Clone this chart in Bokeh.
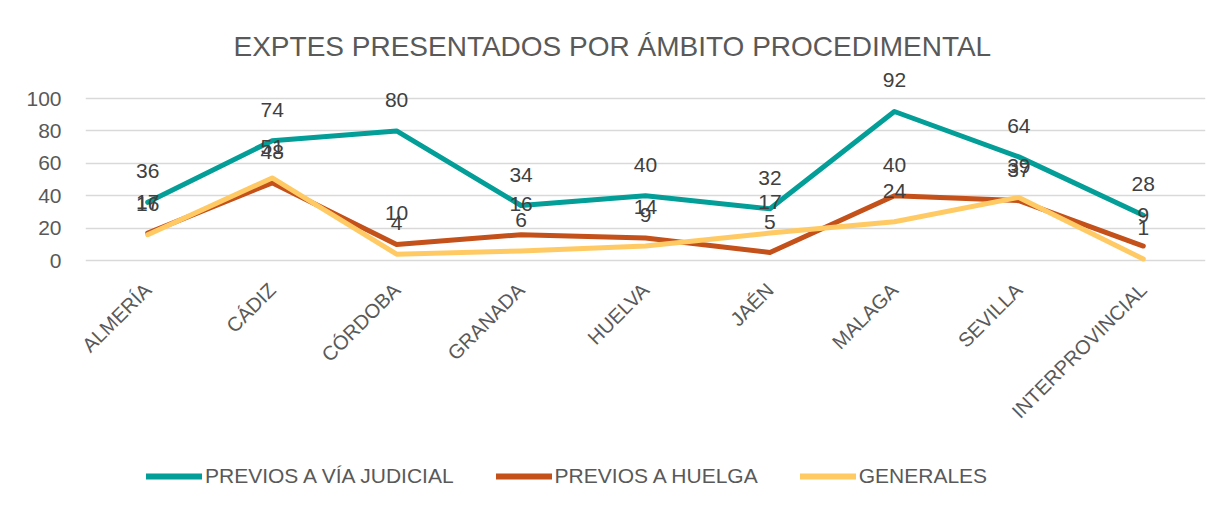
from math import pi
from bokeh.plotting import figure
from bokeh.layouts import column
from bokeh.models import Range1d, FactorRange, FixedTicker, Legend, LegendItem, ColumnDataSource
from bokeh.core.properties import value
from bokeh.embed import file_html
from bokeh.resources import INLINE

categories = ["ALMERÍA", "CÁDIZ", "CÓRDOBA", "GRANADA", "HUELVA", "JAÉN", "MALAGA", "SEVILLA", "INTERPROVINCIAL"]
judicial = [36, 74, 80, 34, 40, 32, 92, 64, 28]
huelga = [17, 48, 10, 16, 14, 5, 40, 37, 9]
generales = [16, 51, 4, 6, 9, 17, 24, 39, 1]
series_names = ["PREVIOS A VÍA JUDICIAL", "PREVIOS A HUELGA", "GENERALES"]
series_colors = ["#029E97", "#C4501A", "#FFCA64"]
y_ticks = [0, 20, 40, 60, 80, 100]
title_text = "EXPTES PRESENTADOS POR ÁMBITO PROCEDIMENTAL"

REG = "Liberation Sans"
LW = 5

p = figure(width=1222, height=445,
           x_range=FactorRange(*categories), y_range=Range1d(-3, 119.75),
           output_backend="svg", toolbar_location=None,
           min_border_left=85, min_border_right=17, min_border_top=66, min_border_bottom=180,
           title=title_text)
p.background_fill_color = "white"
p.border_fill_color = "white"
p.outline_line_color = None

p.title.text_font = REG
p.title.text_font_size = "28px"
p.title.text_font_style = "normal"
p.title.text_color = "#595959"
p.title.align = "left"
p.title.offset = 148
p.title.standoff = 9

p.xgrid.grid_line_color = None
p.ygrid.ticker = FixedTicker(ticks=y_ticks)
p.ygrid.grid_line_color = "#d9d9d9"
p.ygrid.grid_line_width = 1.3

p.yaxis.ticker = FixedTicker(ticks=y_ticks)
p.yaxis.axis_line_color = None
p.yaxis.major_tick_line_color = None
p.yaxis.minor_tick_line_color = None
p.yaxis.major_label_standoff = 18
p.yaxis.major_label_text_font = REG
p.yaxis.major_label_text_font_size = "21px"
p.yaxis.major_label_text_color = "#595959"

p.xaxis.axis_line_color = None
p.xaxis.major_tick_line_color = None
p.xaxis.minor_tick_line_color = None
p.xaxis.major_label_orientation = pi / 4
p.xaxis.major_label_standoff = 15
p.xaxis.major_label_text_font = REG
p.xaxis.major_label_text_font_size = "20px"
p.xaxis.major_label_text_color = "#595959"

for vals, col in zip([judicial, huelga, generales], series_colors):
    src = ColumnDataSource(dict(x=categories, y=vals))
    p.line(x="x", y="y", source=src, line_color=col, line_width=LW,
           line_cap="round", line_join="round")

for vals in [judicial, huelga, generales]:
    src = ColumnDataSource(dict(x=categories, y=vals, t=[str(v) for v in vals]))
    p.text(x="x", y="y", text="t", source=src, text_align="center", text_baseline="middle",
           y_offset=-31, text_font=value(REG), text_font_size="21px", text_color="#404040")

# legend strip below the chart (its frame is aligned with the chart's frame)
p2 = figure(width=1222, height=55, x_range=Range1d(0, 1), y_range=Range1d(0, 1),
            output_backend="svg", toolbar_location=None,
            x_axis_location=None, y_axis_location=None,
            min_border_left=85, min_border_right=17, min_border_top=0, min_border_bottom=0)
p2.grid.visible = False
p2.outline_line_color = None
p2.background_fill_color = "white"
p2.border_fill_color = "white"
items = []
for name, col in zip(series_names, series_colors):
    r = p2.line(x=[-2, -1], y=[-2, -2], line_color=col, line_width=LW + 1, line_cap="round")
    items.append(LegendItem(label=name, renderers=[r]))

legend = Legend(items=items, orientation="horizontal", location=(61, 12))
legend.glyph_width = 56
legend.glyph_height = 24
legend.label_standoff = 3
legend.spacing = 42
legend.padding = 0
legend.margin = 0
legend.border_line_color = None
legend.background_fill_alpha = 0
legend.label_text_font = REG
legend.label_text_font_size = "21px"
legend.label_text_color = "#595959"
p2.add_layout(legend)

layout = column(p, p2, spacing=0)
open("out.html", "w").write(file_html(layout, INLINE))
